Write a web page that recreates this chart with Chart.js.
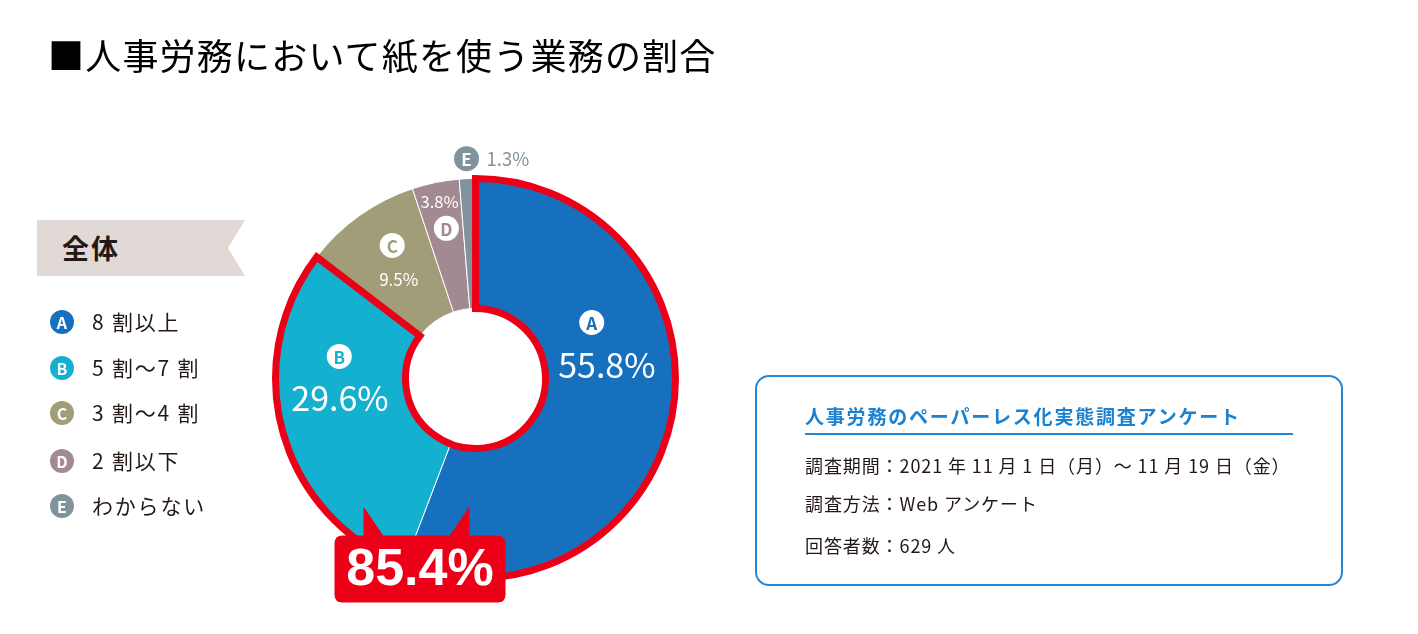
<!DOCTYPE html>
<html lang="ja">
<head>
<meta charset="utf-8">
<script src="https://cdn.jsdelivr.net/npm/chart.js@4/dist/chart.umd.min.js"></script>
<style>
  html, body { margin: 0; padding: 0; background: #fff; }
  body { width: 1418px; height: 634px; position: relative; overflow: hidden;
         font-family: "Noto Sans CJK JP", "Noto Sans", sans-serif; color: #231815; }
  #c { position: absolute; left: 0; top: 0; }
  .title { position: absolute; left: 48px; top: 29px; font-size: 36px; line-height: 50px;
           color: #000; white-space: nowrap; letter-spacing: 1.2px; }
  .ribbon { position: absolute; left: 37px; top: 220px; width: 208px; height: 56px; background: #e0d9d5;
            clip-path: polygon(0 0, 100% 0, 91.8% 50%, 100% 100%, 0 100%); }
  .ribbon span { position: absolute; left: 25px; top: 0; line-height: 56px; font-size: 27px; font-weight: bold;
                 color: #231815; letter-spacing: 2px; }
  .legend { position: absolute; left: 50px; top: 0; }
  .li { position: absolute; left: 0; white-space: nowrap; height: 24px; line-height: 24px; font-size: 21px; letter-spacing: 1.8px; }
  .li .dot { position: absolute; left: 0; top: 0px; width: 24px; height: 24px; border-radius: 50%; color: #fff;
             font-size: 16px; font-weight: bold; line-height: 24px; text-align: center; letter-spacing: 0; }
  .li .tx { position: absolute; left: 42px; top: -1px; }
  .info { position: absolute; left: 755px; top: 375px; width: 584px; height: 207px; border: 2px solid #2488d8;
          border-radius: 14px; }
  .info .ttl { position: absolute; left: 48px; top: 24px; font-size: 19px; font-weight: bold; color: #1a82d0;
               letter-spacing: 1.8px; white-space: nowrap; line-height: 30px; }
  .info .ul { position: absolute; left: 48px; top: 56px; width: 488px; height: 2px; background: #2488d8; }
  .info .ln { position: absolute; left: 48px; font-size: 18px; white-space: nowrap; line-height: 26px; letter-spacing: 0.9px; color: #231815; }
</style>
</head>
<body>
<canvas id="c" width="1418" height="634"></canvas>
<div class="title" id="title"></div>
<div class="ribbon"><span id="group"></span></div>
<div class="legend" id="legend"></div>
<div class="info" id="info">
  <div class="ttl" id="infoTitle"></div>
  <div class="ul"></div>
</div>
<script>
// ---- data ----
const chartTitle = '■人事労務において紙を使う業務の割合';
const groupLabel = '全体';
const categories = ['A', 'B', 'C', 'D', 'E'];
const categoryNames = ['8 割以上', '5 割～7 割', '3 割～4 割', '2 割以下', 'わからない'];
const shares = [55.8, 29.6, 9.5, 3.8, 1.3];
const highlightCount = 2;           // A + B highlighted
const highlightLabel = '85.4%';
const surveyTitle = '人事労務のペーパーレス化実態調査アンケート';
const surveyLines = [
  '調査期間：2021 年 11 月 1 日（月）～ 11 月 19 日（金）',
  '調査方法：Web アンケート',
  '回答者数：629 人'
];

// ---- styles ----
const sliceColors = ['#1770be', '#13b0cf', '#a09d78', '#a28992', '#80939d'];
const red = '#ec0017';
// label placement: t = fraction along the slice, r = radius in px; badge and value
const labelStyle = [
  { badge: { t: 0.32, r: 129 }, value: { t: 0.42, r: 132 }, size: 34, inside: true },
  { badge: { t: 0.735, r: 138 }, value: { t: 0.57, r: 137 }, size: 34, inside: true },
  { badge: { t: 0.60, r: 157 }, value: { t: 0.43, r: 125 }, size: 17, inside: true },
  { badge: { t: 0.54, r: 153 }, value: { t: 0.50, r: 180 }, size: 16.5, inside: true },
  { badge: { t: 0.5, r: 220 }, value: null, size: 18.5, inside: false }
];

// ---- HTML text ----
document.getElementById('title').textContent = chartTitle;
document.getElementById('group').textContent = groupLabel;
const legendEl = document.getElementById('legend');
const legendTops = [310, 356, 401, 449, 494];
categories.forEach((c, i) => {
  const d = document.createElement('div');
  d.className = 'li';
  d.style.top = legendTops[i] + 'px';
  d.innerHTML = '<span class="dot" style="background:' + sliceColors[i] + '">' + c + '</span><span class="tx">' + categoryNames[i] + '</span>';
  legendEl.appendChild(d);
});
document.getElementById('infoTitle').textContent = surveyTitle;
const infoEl = document.getElementById('info');
const lineTops = [75, 113, 155];
surveyLines.forEach((t, i) => {
  const d = document.createElement('div');
  d.className = 'ln';
  d.style.top = lineTops[i] + 'px';
  d.textContent = t;
  infoEl.appendChild(d);
});

// ---- overlay plugin ----
const overlay = {
  id: 'overlay',
  afterDatasetsDraw(chart) {
    const ctx = chart.ctx;
    const arcs = chart.getDatasetMeta(0).data;
    const first = arcs[0], last = arcs[highlightCount - 1];
    const cx = first.x, cy = first.y, R = first.outerRadius, r0 = first.innerRadius;
    ctx.save();
    // highlight outline
    ctx.beginPath();
    ctx.arc(cx, cy, R, first.startAngle, last.endAngle);
    ctx.arc(cx, cy, r0, last.endAngle, first.startAngle, true);
    ctx.closePath();
    ctx.lineWidth = 7;
    ctx.lineJoin = 'miter';
    ctx.strokeStyle = red;
    ctx.stroke();

    // slice labels
    const pos = (arc, p) => {
      const a = arc.startAngle + (arc.endAngle - arc.startAngle) * p.t;
      return [cx + Math.cos(a) * p.r, cy + Math.sin(a) * p.r];
    };
    arcs.forEach((arc, i) => {
      const st = labelStyle[i];
      const [bx, by] = pos(arc, st.badge);
      ctx.beginPath();
      ctx.arc(bx, by, 12.5, 0, Math.PI * 2);
      ctx.fillStyle = st.inside ? '#fff' : sliceColors[i];
      ctx.fill();
      ctx.fillStyle = st.inside ? sliceColors[i] : '#fff';
      ctx.font = 'bold 17px "Noto Sans CJK JP", sans-serif';
      ctx.textAlign = 'center';
      ctx.textBaseline = 'middle';
      ctx.fillText(categories[i], bx, by + 1);
      const txt = shares[i].toFixed(1) + '%';
      ctx.font = st.size + 'px "Noto Sans CJK JP", sans-serif';
      if (st.value) {
        const [vx, vy] = pos(arc, st.value);
        ctx.fillStyle = '#fff';
        ctx.fillText(txt, vx, vy);
      } else {
        ctx.fillStyle = sliceColors[i];
        ctx.textAlign = 'left';
        ctx.fillText(txt, bx + 20, by);
      }
    });

    // callout
    const L = cx - 141, T = cy + 157, W = 171, H = 67, rad = 8;
    ctx.fillStyle = red;
    ctx.beginPath();
    ctx.moveTo(L + rad, T);
    ctx.lineTo(L + W - rad, T);
    ctx.quadraticCurveTo(L + W, T, L + W, T + rad);
    ctx.lineTo(L + W, T + H - rad);
    ctx.quadraticCurveTo(L + W, T + H, L + W - rad, T + H);
    ctx.lineTo(L + rad, T + H);
    ctx.quadraticCurveTo(L, T + H, L, T + H - rad);
    ctx.lineTo(L, T + rad);
    ctx.quadraticCurveTo(L, T, L + rad, T);
    ctx.closePath();
    ctx.fill();
    // spikes
    ctx.beginPath();
    ctx.moveTo(L + 29, T + 2); ctx.lineTo(L + 29, T - 29); ctx.lineTo(L + 50, T + 2); ctx.closePath();
    ctx.moveTo(L + 135, T + 2); ctx.lineTo(L + 135, T - 29); ctx.lineTo(L + 114, T + 2); ctx.closePath();
    ctx.fill();
    ctx.fillStyle = '#fff';
    ctx.font = 'bold 52px "Liberation Sans", Arial, sans-serif';
    ctx.textAlign = 'center';
    ctx.textBaseline = 'middle';
    ctx.fillText(highlightLabel, L + W / 2, T + H / 2 + 2);
    ctx.restore();
  }
};

new Chart(document.getElementById('c'), {
  type: 'doughnut',
  data: {
    labels: categories,
    datasets: [{
      data: shares,
      backgroundColor: sliceColors,
      borderColor: '#ffffff',
      borderWidth: 1,
      hoverOffset: 0
    }]
  },
  options: {
    responsive: false,
    animation: false,
    cutout: '35%',
    layout: { padding: { left: 275, top: 178, right: 742, bottom: 55 } },
    plugins: { legend: { display: false }, tooltip: { enabled: false }, title: { display: false } },
    events: []
  },
  plugins: [overlay]
});
</script>
</body>
</html>
